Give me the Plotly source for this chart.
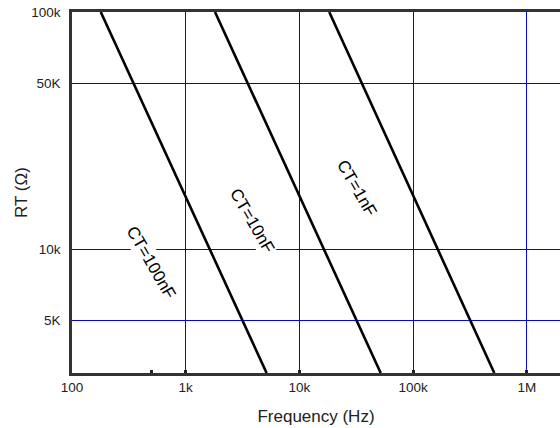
import numpy as np
import plotly.graph_objects as go

# Data (RT in ohms vs frequency in Hz)
rt_values = [100000, 3000]
freq_100nF = [179, 5150]
freq_10nF = [1810, 51900]
freq_1nF = [18300, 518000]

series_names = ["CT=100nF", "CT=10nF", "CT=1nF"]
label_freq = [496, 3830, 32100]
label_rt = [8800, 13240, 18070]

x_tickvals = [100, 1000, 10000, 100000, 1000000]
x_ticktext = ["100", "1k", "10k", "100k", "1M"]
x_minor_tickvals = [500]
y_tickvals = [5000, 10000, 50000, 100000]
y_ticktext = ["5K", "10k", "50K", "100k"]

fig = go.Figure()
for f in [freq_100nF, freq_10nF, freq_1nF]:
    fig.add_trace(go.Scatter(x=f, y=rt_values, mode="lines",
                             line=dict(color="black", width=2.6),
                             showlegend=False, hoverinfo="skip"))

for name, fx, ry in zip(series_names, label_freq, label_rt):
    fig.add_annotation(x=np.log10(fx), y=np.log10(ry), text=name,
                       showarrow=False, textangle=60, bgcolor="white",
                       font=dict(family="Liberation Sans, Arial", size=17, color="black"))

fig.update_layout(
    width=560, height=428,
    margin=dict(l=72, r=0, t=12, b=55),
    plot_bgcolor="white", paper_bgcolor="white",
    font=dict(family="Liberation Sans, Arial", color="#222222"),
    xaxis=dict(type="log", range=[2, 6.292], automargin=False,
               tickmode="array", tickvals=x_tickvals, ticktext=x_ticktext,
               showgrid=True, gridcolor="#0000ff", gridwidth=1,
               showline=True, linecolor="#333333", linewidth=2.5, mirror=True,
               ticks="inside", ticklen=3, tickwidth=2.5, tickcolor="#222222",
               minor=dict(tickmode="array", tickvals=x_minor_tickvals, ticks="inside",
                          ticklen=3, tickwidth=2.5, tickcolor="#222222", showgrid=False),
               tickfont=dict(size=13.5, color="#222222"),
               title=dict(text="Frequency (Hz)", font=dict(size=17, color="#222222"), standoff=17),
               zeroline=False),
    yaxis=dict(type="log", range=[np.log10(3000), 5], automargin=False,
               tickmode="array", tickvals=y_tickvals, ticktext=y_ticktext,
               showgrid=True, gridcolor="#0000ff", gridwidth=1,
               showline=True, linecolor="#333333", linewidth=2.5,
               ticks="", ticklabelstandoff=6, ticklabeloverflow="allow",
               tickfont=dict(size=13.5, color="#222222"),
               title=dict(text="RT (Ω)", font=dict(size=17, color="#222222"), standoff=0),
               zeroline=False),
)

fig.write_html("out.html", config={"displayModeBar": False},
               post_script="document.body.style.margin='0';")
